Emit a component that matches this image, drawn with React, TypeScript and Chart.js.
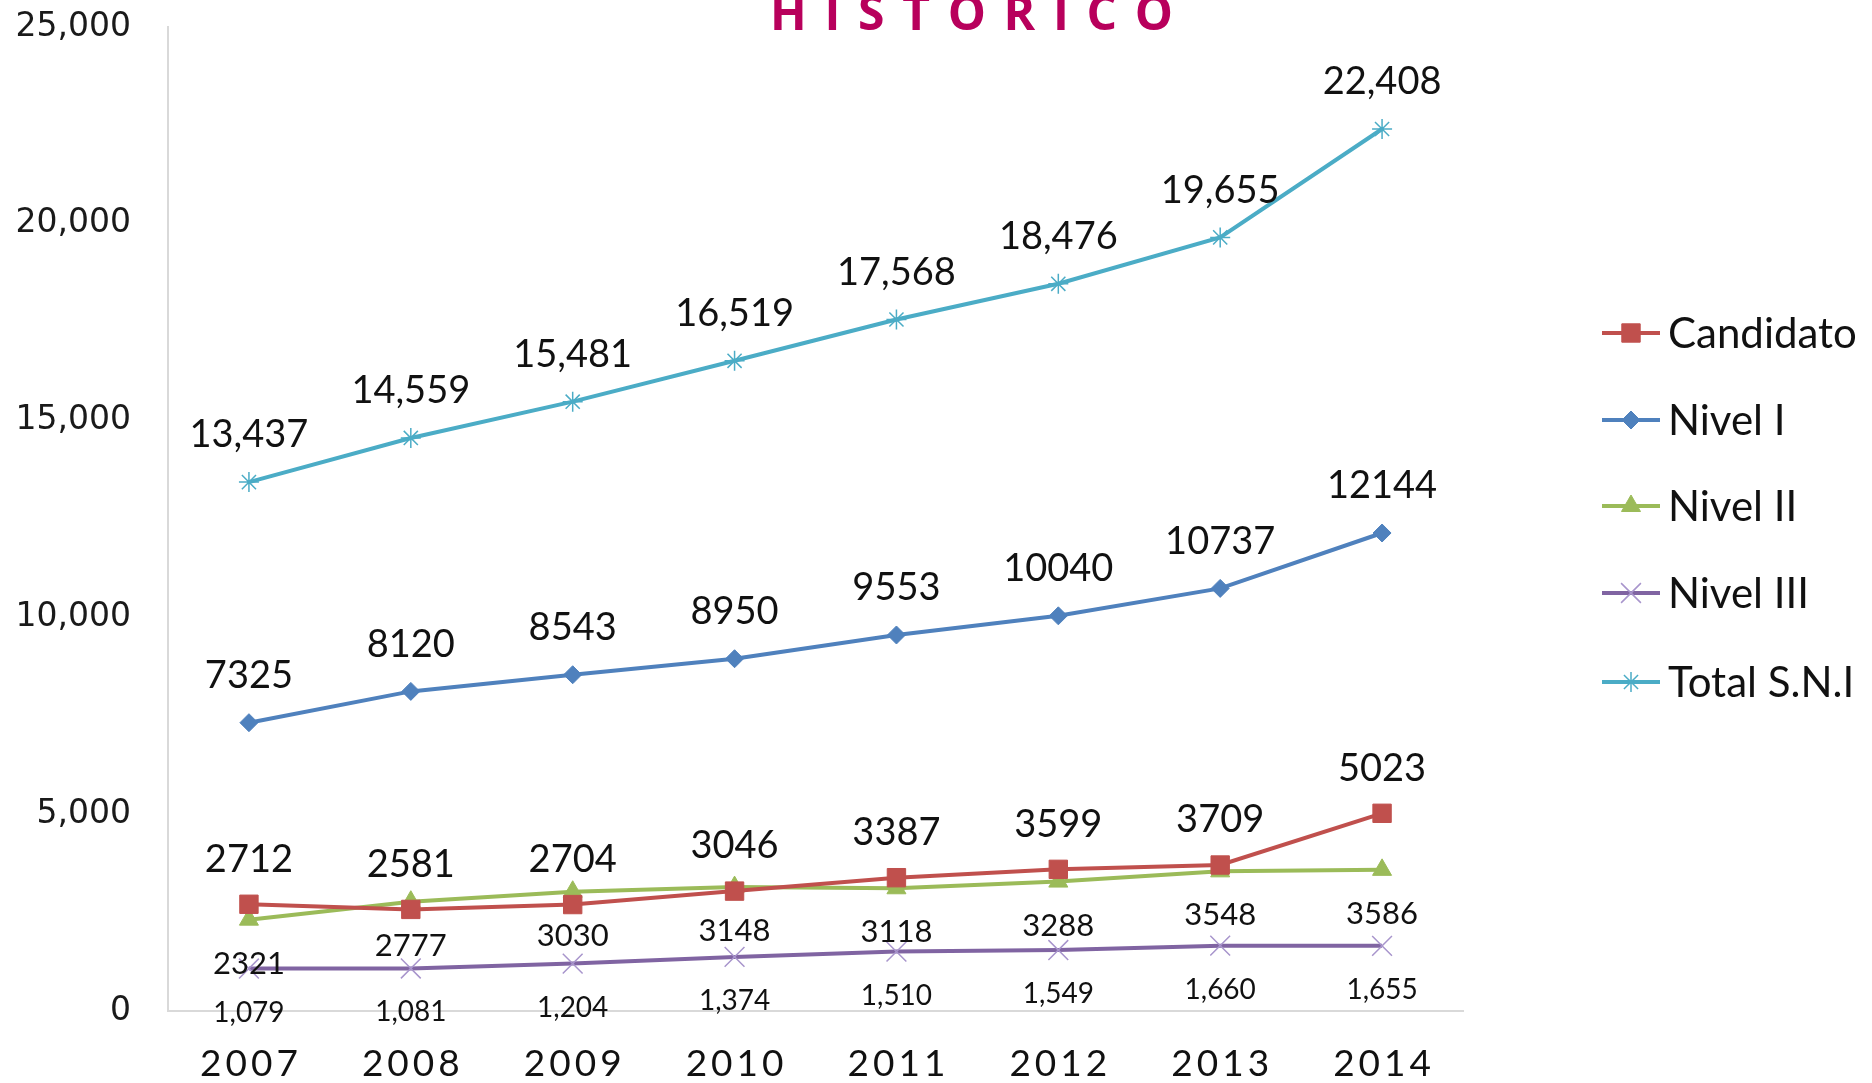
import React, { useEffect, useRef } from "react";
import { Chart, registerables } from "chart.js";
import * as helpers from "chart.js/helpers";

Chart.register(...registerables);

const years = ["2007", "2008", "2009", "2010", "2011", "2012", "2013", "2014"];
const candidato = [2712, 2581, 2704, 3046, 3387, 3599, 3709, 5023];
const nivel1 = [7325, 8120, 8543, 8950, 9553, 10040, 10737, 12144];
const nivel2 = [2321, 2777, 3030, 3148, 3118, 3288, 3548, 3586];
const nivel3 = [1079, 1081, 1204, 1374, 1510, 1549, 1660, 1655];
const totalSNI = [13437, 14559, 15481, 16519, 17568, 18476, 19655, 22408];
const yTicks = [0, 5000, 10000, 15000, 20000, 25000];
const seriesNames = ["Candidato", "Nivel I", "Nivel II", "Nivel III", "Total S.N.I"];
const titleText = "HISTORICO";

const fmtComma = (v: number) => v.toLocaleString("en-US");
const fmtPlain = (v: number) => String(v);

type SeriesStyle = {
  color: string;
  markerColor: string;
  pointStyle: any;
  radius: number;
  pointBorderWidth: number;
  labelOffset: number;
  labelSize: number;
  fmt: (v: number) => string;
};

const styles: SeriesStyle[] = [
  { color: "#C0504D", markerColor: "#C0504D", pointStyle: "rect", radius: 13, pointBorderWidth: 1, labelOffset: -45, labelSize: 38, fmt: fmtPlain },
  { color: "#4F81BD", markerColor: "#4F81BD", pointStyle: "rectRot", radius: 9, pointBorderWidth: 1, labelOffset: -47, labelSize: 38, fmt: fmtPlain },
  { color: "#9BBB59", markerColor: "#9BBB59", pointStyle: "triangle", radius: 11, pointBorderWidth: 1, labelOffset: 44, labelSize: 31, fmt: fmtPlain },
  { color: "#8064A2", markerColor: "#A895CC", pointStyle: "crossRot", radius: 14, pointBorderWidth: 1.5, labelOffset: 44, labelSize: 28, fmt: fmtComma },
  { color: "#4BACC6", markerColor: "#4BACC6", pointStyle: "star", radius: 10, pointBorderWidth: 1.5, labelOffset: -47, labelSize: 38, fmt: fmtComma },
];

const seriesData = [candidato, nivel1, nivel2, nivel3, totalSNI];

const dataLabelsPlugin = {
  id: "dataLabels",
  afterDatasetsDraw(chart: any) {
    const ctx = chart.ctx;
    ctx.save();
    ctx.textAlign = "center";
    ctx.textBaseline = "middle";
    ctx.fillStyle = "#111111";
    chart.data.datasets.forEach((ds: any, i: number) => {
      const st = styles[i];
      const meta = chart.getDatasetMeta(i);
      ctx.font = `${st.labelSize}px Lato`;
      meta.data.forEach((el: any, j: number) => {
        ctx.fillText(st.fmt(ds.data[j]), el.x, el.y + st.labelOffset);
      });
    });
    ctx.restore();
  },
};

const legendTitlePlugin = {
  id: "legendTitle",
  afterDraw(chart: any) {
    const ctx = chart.ctx;
    ctx.save();
    // year labels (letter-spaced) at the category positions
    const xs = chart.scales.x;
    ctx.font = "37px Lato";
    ctx.fillStyle = "#111111";
    ctx.textAlign = "center";
    ctx.textBaseline = "middle";
    (ctx as any).letterSpacing = "4px";
    years.forEach((yr, i) => {
      ctx.fillText(yr, xs.getPixelForTick(i) + 2, 1064);
    });
    (ctx as any).letterSpacing = "0px";
    // legend
    const ys = [333, 420, 506, 593, 682];
    seriesNames.forEach((name, i) => {
      const st = styles[i];
      const y = ys[i];
      ctx.strokeStyle = st.color;
      ctx.lineWidth = 4;
      ctx.beginPath();
      ctx.moveTo(1602, y);
      ctx.lineTo(1660, y);
      ctx.stroke();
      ctx.fillStyle = st.markerColor;
      ctx.strokeStyle = st.markerColor;
      ctx.lineWidth = st.pointBorderWidth;
      helpers.drawPoint(ctx, { pointStyle: st.pointStyle, radius: st.radius, rotation: 0, borderWidth: st.pointBorderWidth }, 1631, y);
      ctx.fillStyle = "#111111";
      ctx.font = "42px Lato";
      ctx.textAlign = "left";
      ctx.textBaseline = "middle";
      ctx.fillText(name, 1668, y + 1);
    });
    // title (cut off at top)
    ctx.font = "bold 48px 'Open Sans'";
    ctx.fillStyle = "#B8005C";
    ctx.textBaseline = "alphabetic";
    ctx.textAlign = "left";
    const letters = titleText.split("");
    const widths = letters.map((l) => ctx.measureText(l).width);
    const total = widths.reduce((a, b) => a + b, 0);
    const span = 403;
    const gap = (span - total) / (letters.length - 1);
    let x = 770;
    letters.forEach((l, k) => {
      ctx.fillText(l, x, 30);
      x += widths[k] + gap;
    });
    ctx.restore();
  },
};

export default function App() {
  const ref = useRef<HTMLCanvasElement | null>(null);
  useEffect(() => {
    const canvas = ref.current;
    if (!canvas) return;
    const chart = new Chart(canvas, {
      type: "line",
      data: {
        labels: years,
        datasets: seriesNames.map((name, i) => ({
          label: name,
          data: seriesData[i],
          borderColor: styles[i].color,
          backgroundColor: styles[i].markerColor,
          pointBorderColor: styles[i].markerColor,
          pointBackgroundColor: styles[i].markerColor,
          pointStyle: styles[i].pointStyle,
          pointRadius: styles[i].radius,
          pointBorderWidth: styles[i].pointBorderWidth,
          borderWidth: 4,
          tension: 0,
          fill: false,
        })),
      },
      options: {
        animation: false,
        responsive: false,
        maintainAspectRatio: false,
        layout: { padding: { left: 0, right: 409, top: 27, bottom: 0 } },
        plugins: { legend: { display: false }, tooltip: { enabled: false }, title: { display: false } },
        scales: {
          x: {
            offset: true,
            grid: { display: false, drawTicks: false },
            border: { display: true, color: "#D9D9D9", width: 2 },
            ticks: { display: false },
            afterFit: (s: any) => {
              s.height = 72;
            },
          },
          y: {
            min: 0,
            max: 25000,
            afterBuildTicks: (s: any) => {
              s.ticks = yTicks.map((v) => ({ value: v }));
            },
            grid: { display: true, drawOnChartArea: false, drawTicks: true, tickLength: 37, color: "rgba(0,0,0,0)" },
            border: { display: true, color: "#D9D9D9", width: 2 },
            ticks: {
              font: { family: "'DejaVu Sans'", size: 33 },
              color: "#1a1a1a",
              padding: 0,
              callback: (v: any) => Number(v).toLocaleString("en-US"),
            },
            afterFit: (s: any) => {
              s.width = 168;
            },
          },
        },
      },
      plugins: [dataLabelsPlugin, legendTitlePlugin],
    });
    const fonts = (document as any).fonts;
    if (fonts && fonts.load) {
      Promise.all([fonts.load("42px Lato"), fonts.load("bold 48px 'Open Sans'"), fonts.load("33px 'DejaVu Sans'")])
        .then(() => chart.update())
        .catch(() => {});
    }
    return () => chart.destroy();
  }, []);
  return (
    <div style={{ position: "fixed", left: 0, top: 0, width: 1872, height: 1083, background: "#ffffff" }}>
      <canvas ref={ref} width={1872} height={1083} style={{ width: 1872, height: 1083, display: "block" }} />
    </div>
  );
}
